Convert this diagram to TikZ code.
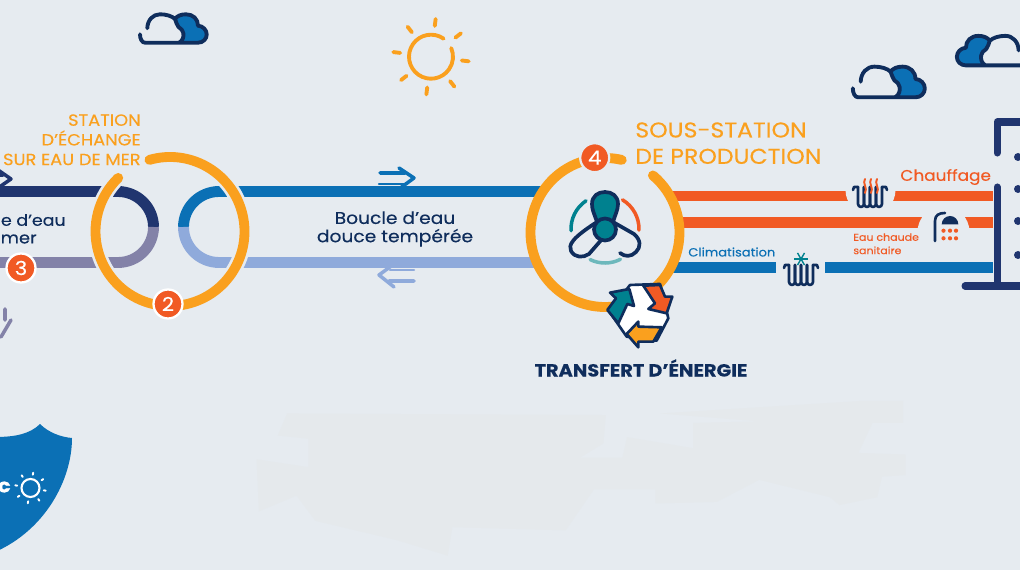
\documentclass[tikz,border=0pt]{standalone}
\usepackage{fontspec}
\setmainfont[FakeStretch=1.1, FakeBold=0.25]{Poppins}
\definecolor{fond}{HTML}{E6EBF0}
\definecolor{tache}{HTML}{E5E9EC}
\definecolor{jaune}{HTML}{FAA01E}
\definecolor{rouge}{HTML}{F15A24}
\definecolor{bleu}{HTML}{0B70B5}
\definecolor{marine}{HTML}{20356F}
\definecolor{nuit}{HTML}{0F2D5C}
\definecolor{mauve}{HTML}{8382A8}
\definecolor{ciel}{HTML}{8FAADB}
\definecolor{sarcelle}{HTML}{00818F}
\definecolor{sarcelleclair}{HTML}{6DB8BC}
\tikzset{
    pipe/.style={line width=6.2pt},
    ring/.style={line width=5.6pt, jaune, line cap=round},
    halo/.style={line width=8.6pt, fond},
    badge/.style={circle, fill=rouge, draw=white, line width=1.3pt, minimum size=16.5pt, inner sep=0pt, text=white, font=\fontsize{11}{11}\selectfont},
    trait/.style={line width=1.5pt, nuit, line cap=round, line join=round},
    pics/nuage/.style={code={
        \fill[bleu] (45,14) .. controls (47,11) and (51,9.3) .. (56,9.3) .. controls (63,9.3) and (68,14) .. (68,20.7)
            .. controls (73,21) and (76.7,25) .. (76.7,29.5) .. controls (76.7,34) and (73,37.7) .. (68,37.7) -- (49,37.7)
            .. controls (53,36) and (54,31) .. (53.3,28) .. controls (53,25) and (51,24) .. (48.5,22) .. controls (47,20) and (46,17) .. (45,14) -- cycle;
        \draw[line width=2.2pt, nuit, line cap=round, line join=round]
            (17.3,23.3) .. controls (17.5,15) and (23,9.3) .. (30,9.3) .. controls (36,9.3) and (42,11) .. (45,14)
            .. controls (47,11) and (51,9.3) .. (56,9.3) .. controls (63,9.3) and (68,14) .. (68,20.7)
            .. controls (73,21) and (76.7,25) .. (76.7,29.5) .. controls (76.7,34) and (73,37.7) .. (68,37.7) -- (15,37.7)
            .. controls (12,37.7) and (10,34) .. (10,29.3)
            (45,14) .. controls (46,17) and (47,20) .. (48.5,22) .. controls (51,24) and (53,25) .. (53.3,28) .. controls (54,31) and (53,36) .. (49,37.7);
    }},
    pics/radiateur/.style={code={
        \foreach \x in {0,6,12,18}
            \draw[trait] (\x,0) -- (\x,17) arc (180:0:3) -- (\x+6,0);
        \draw[trait] (-5,3) -- (-4,0) -- (0,0) (24,0) -- (28,0) -- (29,3);
    }}
}
\begin{document}
\begin{tikzpicture}[x=0.02cm, y=-0.02cm]
    \fill[fond] (0,0) rectangle (1020,570);
    \clip (0,0) rectangle (1020,570);

    % tache du fond
    \begin{scope}[shift={(240,385)}, xscale=0.472, yscale=0.316]
        \fill[tache] (100,90) -- (775,95) -- (770,185) -- (720,230) -- (810,230) -- (820,165) -- (960,200) -- (960,120) -- (1100,115)
            -- (1145,230) -- (1100,300) -- (1010,370) -- (880,375) -- (880,330) -- (750,330) -- (690,460) -- (450,450) -- (440,540)
            -- (330,490) -- (160,430) -- (120,350) -- (40,400) -- (35,235) -- (145,260) -- (145,170) -- (80,160) -- cycle;
        \fill[tache] (890,90) -- (1320,50) -- (1405,50) -- (1405,120) -- (1340,120) -- (1310,215) -- (1410,220) -- (1410,285)
            -- (1360,290) -- (1350,355) -- (1270,380) -- (1250,355) -- (1100,300) -- (1145,230) -- (1100,115) -- cycle;
    \end{scope}

    % boucle d'eau de mer
    \draw[pipe, marine] (0,191.5) -- (118,191.5) arc (-90:0:35.5);
    \draw[pipe, mauve] (0,262.5) -- (118,262.5) arc (90:0:35.5);
    % boucle d'eau douce
    \draw[pipe, bleu] (543,191.5) -- (219,191.5) arc (-90:-180:35.5);
    \draw[pipe, ciel] (537,262.5) -- (219,262.5) arc (90:180:35.5);

    % station d'echange
    \draw[halo] ([shift={(-106:74.5)}]170,231.5) arc (-106:226:74.5);
    \draw[ring] ([shift={(-106:74.5)}]170,231.5) arc (-106:226:74.5);

    % reseaux de la sous-station
    \draw[pipe, rouge] (670,196) -- (993,196);
    \draw[pipe, rouge] (679,222.5) -- (993,222.5);
    \draw[pipe, bleu] (671,267.5) -- (776,267.5) (825,267.5) -- (993,267.5);
    \fill[fond] (870.5,190) circle (25);
    \fill[fond] (943.5,232) circle (26);

    \draw[ring] ([shift={(-77:74.5)}]605,232.5) arc (-77:-410:74.5);

    % batiment
    \draw[line width=4pt, marine, line cap=round, line join=round]
        (997,153) -- (997,122) -- (1025,122)
        (997,187) -- (997,286) (965,286) -- (1025,286);
    \foreach \y in {157,189,221,255}
        \fill[marine] (1018,\y) circle (4);

    % fleches
    \draw[line width=2pt, bleu, line cap=round, line join=round] (399,168) -- (414,178) -- (399,189) (380,173) -- (405,173);
    \draw[line width=1.3pt, bleu, line cap=round] (379,184) -- (405,184);
    \draw[line width=2pt, ciel, line cap=round, line join=round] (394,264) -- (379,275) -- (394,287) (414,281) -- (389,281);
    \draw[line width=1.3pt, ciel, line cap=round] (414,270) -- (390,270);
    \draw[line width=2pt, marine, line cap=round, line join=round] (-2,170) -- (11,179) -- (-2,188) (-5,175) -- (3,175);
    \draw[line width=2pt, mauve, line cap=round, line join=round] (5,309) -- (5,320) (11,320) -- (1,337);

    % ventilateur
    \draw[line width=2pt, sarcelle, line cap=round] ([shift={(-183:34)}]605,229) arc (-183:-124:34);
    \draw[line width=2pt, rouge, line cap=round] ([shift={(-59:34)}]605,229) arc (-59:2:34);
    \draw[line width=2pt, sarcelleclair, line cap=round] ([shift={(116:34)}]605,229) arc (116:63:34);
    \draw[line width=2.1pt, nuit, line join=round, line cap=round]
        (597,222) .. controls (572,238) and (568,245) .. (571,251) .. controls (575,258) and (583,258) .. (589,254) -- (603,238)
        (613,222) -- (634,234) .. controls (641,240) and (641,247) .. (636,252) .. controls (631,257) and (625,257) .. (620,253);
    \draw[line width=2.1pt, nuit, fill=sarcelle, line join=round]
        (597,222) .. controls (594,213) and (592,210) .. (592,204) .. controls (592,196) and (598,192) .. (605,192)
        .. controls (612,192) and (618,196) .. (618,204) .. controls (618,210) and (615,215) .. (613,222) -- cycle;
    \draw[line width=2.1pt, nuit, fill=sarcelle] (605,229.5) circle (11);

    % recyclage
    \begin{scope}[shift={(510,110)}, scale=0.3333]
        \draw[trait, fill=white] (360,525) -- (450,522) -- (475,625) -- (440,692) -- (350,680) -- (298,605) -- cycle;
        \draw[trait, fill=sarcelle] (300,548) -- (358,537) -- (372,588) -- (352,582) -- (325,640) -- (292,600) -- (318,565) -- cycle;
        \draw[trait, fill=rouge] (400,527) -- (450,525) -- (465,560) -- (487,560) -- (470,610) -- (415,597) -- (435,580) -- cycle;
        \draw[trait, fill=jaune] (350,672) -- (385,635) -- (385,650) -- (455,652) -- (430,695) -- (385,695) -- (385,712) -- cycle;
    \end{scope}

    % icones
    \pic at (858,187) {radiateur};
    \foreach \x in {865,871,877}
        \draw[line width=1.1pt, rouge, line cap=round] (\x,179) .. controls (\x-3,183) and (\x+3,188) .. (\x,193);
    \pic at (789,265) {radiateur};
    \foreach \a in {0,60,120}
        \draw[line width=0.8pt, sarcelle] ([shift={(\a:7)}]801,259) -- ([shift={(\a+180:7)}]801,259);
    \draw[trait] (935,241) -- (935,221) .. controls (935,215) and (939,213) .. (945,213);
    \fill[nuit] (941.7,224.3) arc (180:360:8.3) -- cycle;
    \foreach \x in {943.5,950,956}
        \foreach \y in {230.7,238.3}
            \fill[rouge] (\x,\y) circle (2.1);

    % soleil et nuages
    \draw[line width=2.2pt, jaune, line cap=round] ([shift={(-55:22)}]431,56.7) arc (-55:-383:22);
    \foreach \a in {83,38,-7,-52,-97,-142,173,128}
        \draw[line width=2.2pt, jaune, line cap=round] ([shift={(-\a:31)}]431,56.7) -- ([shift={(-\a:38)}]431,56.7);
    \pic at (130,5) {nuage};
    \pic[scale=1.08] at (842,56.6) {nuage};
    \pic[xscale=-1.04, yscale=1.04] at (1036.6,26.2) {nuage};

    % ecusson
    \fill[bleu] (-5,437) .. controls (15,437) and (30,434) .. (40,424) .. controls (48,432) and (60,437) .. (72,438)
        .. controls (72,480) and (45,530) .. (-5,552) -- cycle;
    \draw[line width=1.2pt, white] (30.5,488) circle (9);
    \foreach \a in {0,45,...,315}
        \draw[line width=1.1pt, white, line cap=round] ([shift={(\a+10:13.5)}]30.5,488) -- ([shift={(\a+10:15.5)}]30.5,488);
    \node[anchor=east, inner sep=0pt, text=white, font=\fontsize{11}{11}\bfseries\selectfont] (lettre) at (11,487) {c};

    % textes
    \node[anchor=north east, align=right, inner sep=0pt, text=jaune, font=\fontsize{9.2}{11.2}\selectfont] (station) at (141,114) {STATION\\D’ÉCHANGE\\SUR EAU DE MER};
    \node[anchor=north west, align=left, inner sep=0pt, text=jaune, font=\fontsize{12.2}{15}\selectfont] (sousstation) at (635,122) {SOUS-STATION\\DE PRODUCTION};
    \node[align=center, inner sep=0pt, text=nuit, font=\fontsize{9.65}{10.4}\selectfont] (douce) at (395,229) {Boucle d’eau\\douce tempérée};
    \node[anchor=east, inner sep=0pt, text=nuit, font=\fontsize{9}{10.4}\selectfont] (merhaut) at (66,220) {e d’eau};
    \node[anchor=east, inner sep=0pt, text=nuit, font=\fontsize{9.2}{10.4}\selectfont] (merbas) at (37,239) {mer};
    \node[anchor=west, inner sep=0pt, text=bleu, font=\fontsize{6.75}{8}\selectfont] (clim) at (688,252) {Climatisation};
    \node[anchor=north west, align=left, inner sep=0pt, text=rouge, font=\fontsize{5.7}{7.6}\selectfont] (eau) at (853,233) {Eau chaude\\sanitaire};
    \node[anchor=west, inner sep=0pt, text=rouge, font=\fontsize{8.75}{11}\selectfont] (chauffage) at (900,177) {Chauffage};
    \node[inner sep=0pt, text=nuit, font=\fontsize{10}{12}\bfseries\selectfont] (transfert) at (641,368) {TRANSFERT D’ÉNERGIE};

    \node[badge] (deux) at (168,304) {2};
    \node[badge] (trois) at (21,268) {3};
    \node[badge, draw=fond] (quatre) at (594.7,157.7) {4};
\end{tikzpicture}
\end{document}
